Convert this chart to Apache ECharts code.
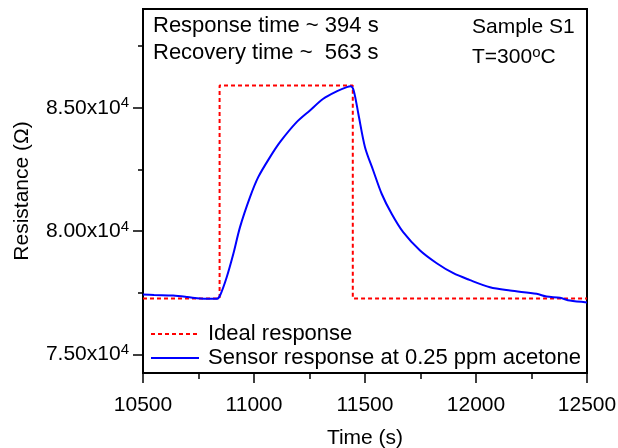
<!DOCTYPE html>
<html>
<head>
<meta charset="utf-8">
<script src="https://cdn.jsdelivr.net/npm/echarts@6/dist/echarts.min.js"></script>
<style>html,body{margin:0;padding:0;background:#fff}#c{width:618px;height:448px}</style>
</head>
<body>
<div id="c"></div>
<script>
// ---- data ----
const sensorTime = [10500,10550,10636,10700,10757,10800,10832,10847,10877,10907,10937,10982,11019,11072,11117,11192,11252,11312,11372,11418,11435,11449,11470,11500,11537,11575,11620,11672,11748,11823,11898,11970,12063,12153,12273,12318,12378,12423,12500];
const sensorR    = [77430,77410,77388,77330,77265,77255,77255,77390,78130,79080,80160,81375,82186,82997,83605,84416,84891,85365,85661,85835,85870,85700,84757,83402,82457,81513,80701,79955,79213,78698,78293,78025,77725,77591,77457,77348,77295,77185,77110];
const idealTime  = [10500,10845,10845,11445,11445,12500];
const idealR     = [77270,77270,85900,85900,77270,77270];
const xTickLabels = ['10500','11000','11500','12000','12500'];
const yMajorTicks = [75000,80000,85000];
const yMinorTicks = [77500,82500,87500];
const seriesNames = ['Ideal response','Sensor response at 0.25 ppm acetone'];

const FONT = "'Liberation Sans', Arial, sans-serif";
const FS = 21;
const FS2 = 22;
const chart = echarts.init(document.getElementById('c'));
const zip = (a,b) => a.map((v,i)=>[v,b[i]]);

const yBase = {
  type:'value', min:74250, max:89000, position:'left', offset:0,
  splitLine:{show:false},
  axisLine:{show:true, lineStyle:{color:'#000', width:2}},
};
const supStyle = {fontFamily:FONT, fontSize:15, color:'#000', verticalAlign:'top', padding:[0,0,9,0]};

chart.setOption({
  animation:false,
  backgroundColor:'#fff',
  grid:{left:143, right:31, top:9, bottom:75, show:true, borderColor:'#000', borderWidth:2,
        backgroundColor:'transparent', containLabel:false, outerBoundsMode:'none'},
  legend:{
    orient:'vertical', left:145, top:318, itemWidth:48, itemHeight:12, itemGap:2,
    data:seriesNames,
    itemStyle:{opacity:0},
    textStyle:{fontFamily:FONT, fontSize:FS2, color:'#000', padding:[0,0,0,4]}
  },
  xAxis:{
    type:'value', min:10500, max:12500, interval:500,
    splitLine:{show:false},
    axisLine:{lineStyle:{color:'#000', width:2}},
    axisTick:{show:true, inside:false, length:10, lineStyle:{color:'#000', width:1.5}},
    minorTick:{show:true, splitNumber:2, length:6, lineStyle:{color:'#000', width:1.5}},
    axisLabel:{fontFamily:FONT, fontSize:FS, color:'#000', margin:22,
      formatter: v => { const s = String(v); return xTickLabels.includes(s) ? s : ''; }},
    name:'Time (s)', nameLocation:'middle', nameGap:55,
    nameTextStyle:{fontFamily:FONT, fontSize:FS, color:'#000'}
  },
  yAxis:[
    Object.assign({}, yBase, {
      axisTick:{show:true, length:10, customValues:yMajorTicks, lineStyle:{color:'#000', width:1.5}},
      axisLabel:{
        customValues:yMajorTicks, margin:14,
        formatter: v => (v/1e4).toFixed(2) + 'x10{s|4}',
        fontFamily:FONT, fontSize:FS, color:'#000',
        rich:{s:supStyle}
      },
      name:'Resistance (Ω)', nameLocation:'middle', nameGap:110,
      nameTextStyle:{fontFamily:FONT, fontSize:FS, color:'#000'}
    }),
    Object.assign({}, yBase, {
      axisTick:{show:true, length:5, customValues:yMinorTicks, lineStyle:{color:'#000', width:1.5}},
      axisLabel:{show:false}
    })
  ],
  graphic:[
    {type:'text', left:153, top:15, style:{text:'Response time ~ 394 s', font:`${FS2}px ${FONT}`, fill:'#000'}},
    {type:'text', left:153, top:42, style:{text:'Recovery time ~  563 s', font:`${FS2}px ${FONT}`, fill:'#000'}},
    {type:'text', left:472, top:17, style:{text:'Sample S1', font:`${FS}px ${FONT}`, fill:'#000'}},
    {type:'text', left:472, top:45, style:{
      text:'T=300{s|o}C', font:`${FS}px ${FONT}`, fill:'#000',
      rich:{s:{fontFamily:FONT, fontSize:15, fill:'#000', verticalAlign:'top', padding:[0,0,9,0]}}
    }}
  ],
  series:[
    {name:seriesNames[0], type:'line', data:zip(idealTime, idealR), showSymbol:false, symbol:'none',
     lineStyle:{color:'#ff0000', width:2, type:[4,3]}, itemStyle:{color:'#ff0000'}, z:2},
    {name:seriesNames[1], type:'line', data:zip(sensorTime, sensorR), showSymbol:false, symbol:'none',
     smooth:0.3,
     lineStyle:{color:'#0000ff', width:2}, itemStyle:{color:'#0000ff'}, z:3}
  ]
});
</script>
</body>
</html>
